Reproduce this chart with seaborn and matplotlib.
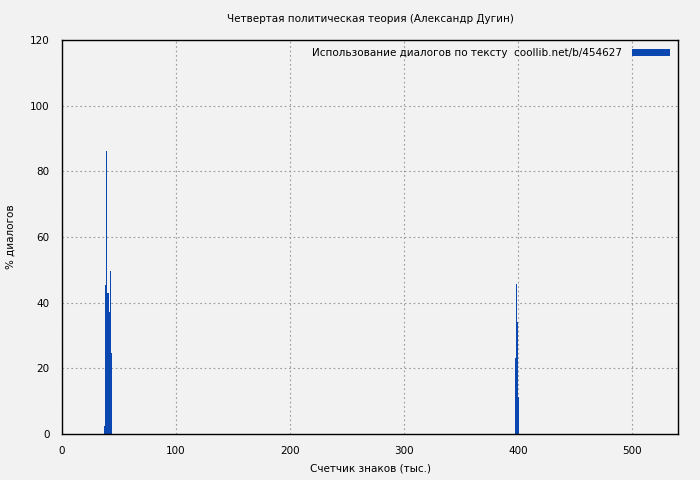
import matplotlib
matplotlib.use("Agg")
import matplotlib.pyplot as plt
import pandas as pd
import seaborn as sns

# позиции (тыс. знаков) и доля диалогов, %
chars_k = [37, 38, 39, 40, 41, 42, 43, 397, 398, 399, 400]
dialog_pct = [2.4, 45.4, 86.2, 43.0, 37.3, 49.7, 24.8, 23.0, 45.7, 34.2, 11.4]

x_ticks = [0, 100, 200, 300, 400, 500]
y_ticks = [0, 20, 40, 60, 80, 100, 120]

title = "Четвертая политическая теория (Александр Дугин)"
legend_label = "Использование диалогов по тексту  coollib.net/b/454627"

df = pd.DataFrame({"chars": chars_k, "pct": dialog_pct})

sns.set_style("whitegrid", {"text.color": "black", "axes.labelcolor": "black",
                            "xtick.color": "black", "ytick.color": "black"})
plt.rcParams['font.family'] = ['DejaVu Sans']
plt.rcParams['font.size'] = 7.5

fig = plt.figure(figsize=(7, 4.8), dpi=100, facecolor='#f2f2f2')
ax = fig.add_axes([62 / 700, 46 / 480, 616 / 700, 394 / 480])
ax.set_facecolor('#f2f2f2')

sns.histplot(data=df, x="chars", weights="pct", binwidth=1, binrange=(-0.2, 539.8),
             color='#0a47b0', alpha=1, linewidth=0, ax=ax, label=legend_label)

ax.set_xlim(0, 540)
ax.set_ylim(0, 120)
ax.set_xticks(x_ticks)
ax.set_yticks(y_ticks)
ax.grid(True, color='#999999', linestyle=(0, (1.5, 2.5)), linewidth=0.8)
for s in ax.spines.values():
    s.set_color('black')
    s.set_linewidth(1)
ax.tick_params(direction='out', length=5, width=1, color='black', labelsize=7.5, pad=4)

ax.set_title(title, fontsize=7.5, pad=13, color='black')
ax.set_xlabel("Счетчик знаков (тыс.)", fontsize=7.5, labelpad=5)
ax.set_ylabel("% диалогов", fontsize=7.5, labelpad=10)

ax.legend(loc='upper right', markerfirst=False, frameon=False,
          fontsize=7.5, handlelength=3.6, handleheight=0.6, handletextpad=1.0,
          borderaxespad=0.4, labelcolor='black')

fig.savefig("out.png", dpi=100, facecolor=fig.get_facecolor())
